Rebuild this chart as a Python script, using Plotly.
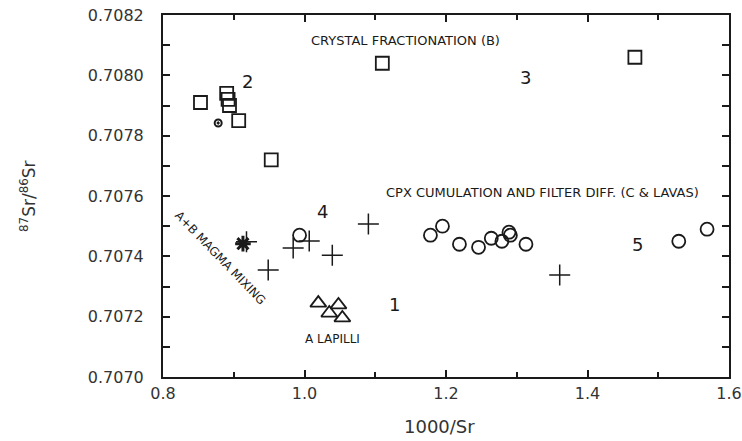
import plotly.graph_objects as go

# 1000/Sr versus 87Sr/86Sr for the eruption products
sq_x = [0.853, 0.890, 0.892, 0.894, 0.907, 0.953, 1.110, 1.467]
sq_y = [0.70791, 0.70794, 0.70792, 0.70790, 0.70785, 0.70772, 0.70804, 0.70806]

circ_x = [0.993, 1.178, 1.195, 1.219, 1.246, 1.264, 1.279, 1.289, 1.291, 1.313, 1.529, 1.569]
circ_y = [0.70747, 0.70747, 0.70750, 0.70744, 0.70743, 0.70746, 0.70745, 0.70748, 0.70747, 0.70744, 0.70745, 0.70749]

tri_x = [1.0195, 1.048, 1.035, 1.0535]
tri_y = [0.707245, 0.707239, 0.707212, 0.707196]

cross_x = [0.9487, 0.984, 1.0067, 1.0393, 1.0903, 1.3607, 0.918]
cross_y = [0.707355, 0.707428, 0.707451, 0.707404, 0.707507, 0.707338, 0.707448]

star_x = [0.913]
star_y = [0.707442]

dot_x = [0.878]
dot_y = [0.707842]

x_ticks = [0.8, 1.0, 1.2, 1.4, 1.6]
y_ticks = [0.7070, 0.7072, 0.7074, 0.7076, 0.7078, 0.7080, 0.7082]

INK = "#1a1a1a"
GREY = "#333333"
FONT = "DejaVu Sans"

fig = go.Figure()

def add_points(xs, ys, symbol, size, width=1.8):
    fig.add_trace(go.Scatter(
        x=xs, y=ys, mode="markers", showlegend=False,
        marker=dict(symbol=symbol, size=size, color=INK,
                    line=dict(color=INK, width=width)),
    ))

add_points(sq_x, sq_y, "square-open", 13)
add_points(circ_x, circ_y, "circle-open", 13)
add_points(tri_x, tri_y, "triangle-up-open", 14)
add_points(cross_x, cross_y, "cross-thin-open", 15, 1.5)
add_points(star_x, star_y, "asterisk-open", 13, 3)
add_points(dot_x, dot_y, "circle-open-dot", 7, 2)

labels = [
    ("CRYSTAL FRACTIONATION (B)", 1.1427, 0.708117, 13, 0),
    ("CPX CUMULATION AND FILTER DIFF. (C &amp; LAVAS)", 1.3366, 0.707613, 13, 0),
    ("A LAPILLI", 1.039, 0.707126, 12, 0),
    ("A+B MAGMA MIXING", 0.881, 0.707394, 12, 46),
    ("1", 1.127, 0.707242, 18, 0),
    ("2", 0.920, 0.707978, 18, 0),
    ("3", 1.3126, 0.707994, 18, 0),
    ("4", 1.0251, 0.707547, 18, 0),
    ("5", 1.471, 0.707438, 18, 0),
]
for text, lx, ly, size, ang in labels:
    fig.add_annotation(x=lx, y=ly, text=text, showarrow=False, textangle=ang,
                       font=dict(family=FONT, size=size, color=INK))

# axis titles
fig.add_annotation(
    xref="paper", yref="paper", x=-0.2385, y=0.50, xanchor="center", yanchor="middle",
    text="<sup>87</sup>Sr/<sup>86</sup>Sr", showarrow=False, textangle=-90,
    font=dict(family=FONT, size=17, color=GREY),
)
fig.add_annotation(
    xref="paper", yref="paper", x=0.488, y=-0.138, xanchor="center", yanchor="middle",
    text="1000/Sr", showarrow=False,
    font=dict(family=FONT, size=18, color=GREY),
)

axis_common = dict(
    showgrid=False, zeroline=False, showline=True, linecolor=INK, linewidth=2,
    mirror="allticks", ticks="inside", tickcolor=INK, tickwidth=1.5,
    tickfont=dict(family=FONT, size=16, color=GREY), automargin=False,
)

fig.update_xaxes(
    range=[0.8, 1.6], tickvals=x_ticks, tickformat=".1f", ticklen=7,
    ticklabelstandoff=1,
    minor=dict(dtick=0.1, ticks="inside", ticklen=5, tickcolor=INK, tickwidth=1.5),
    **axis_common,
)
fig.update_yaxes(
    range=[0.7070, 0.7082], tickvals=y_ticks, tickformat=".4f", ticklen=7,
    ticklabelstandoff=14,
    minor=dict(dtick=0.0001, ticks="inside", ticklen=7, tickcolor=INK, tickwidth=1.5),
    **axis_common,
)

fig.update_layout(
    width=742, height=441,
    margin=dict(l=163, r=13, t=15, b=64),
    paper_bgcolor="white", plot_bgcolor="white",
    font=dict(family=FONT, color=INK),
)

fig.write_html("out.html")
